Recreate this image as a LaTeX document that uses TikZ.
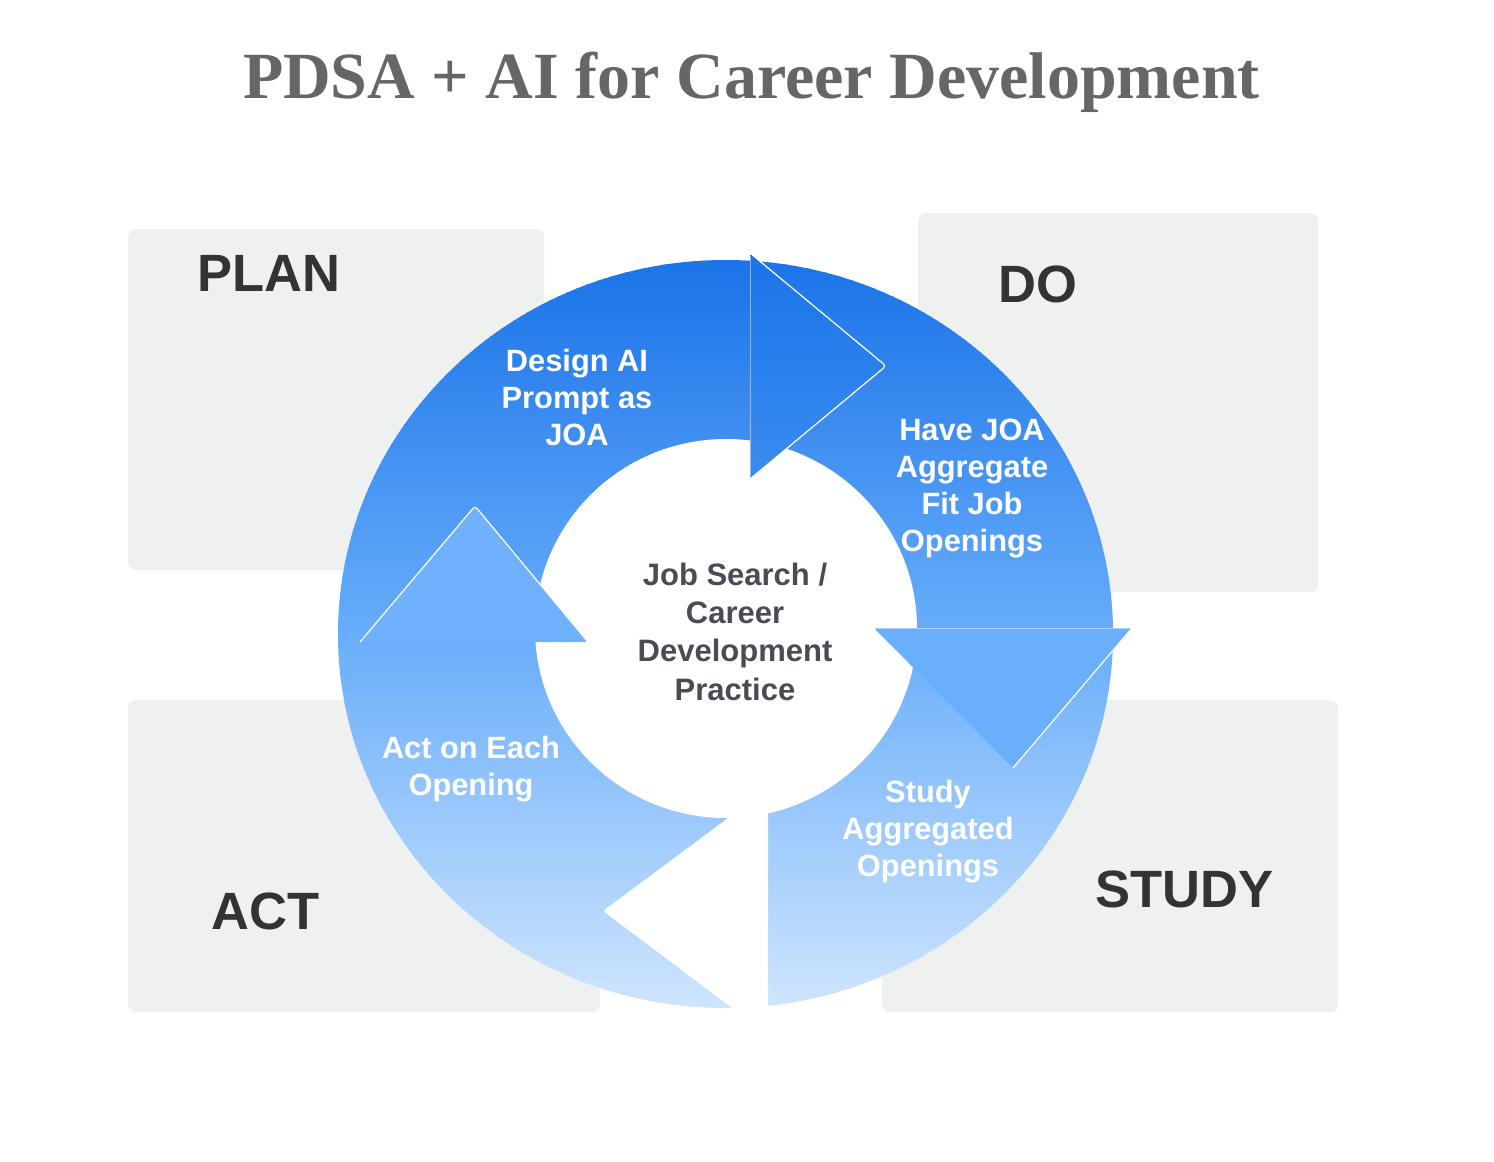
\documentclass[tikz,border=0pt]{standalone}
\usepackage{fontspec}
\newfontfamily\sansfnt{Liberation Sans}
\newfontfamily\seriffnt{Liberation Serif}
\definecolor{boxgrey}{HTML}{EFF0F0}
\definecolor{labelgrey}{HTML}{333333}
\definecolor{titlegrey}{HTML}{666666}
\definecolor{centergrey}{HTML}{474C55}
\definecolor{ringtop}{HTML}{1A73E8}
\definecolor{ringmid}{HTML}{68ADFB}
\definecolor{ringbot}{HTML}{CFE5FD}
\definecolor{planheadbot}{HTML}{3A8CEF}
\definecolor{dohead}{HTML}{6AAFFC}
\definecolor{acthead}{HTML}{70B1FD}
\newcommand{\stacklines}[1]{\begin{tabular}[t]{@{}c@{}}#1\end{tabular}}
\tikzset{
  greybox/.style={fill=boxgrey, rounded corners=8pt, anchor=north west, inner sep=0pt},
  phaselabel/.style={font=\sansfnt\bfseries\fontsize{52.5}{60}\selectfont, text=labelgrey, anchor=base, inner sep=0pt},
  ringtext/.style={font=\sansfnt\bfseries\fontsize{30.8}{37.3}\selectfont, text=white, anchor=base, inner sep=0pt},
  centertext/.style={font=\sansfnt\bfseries\fontsize{31}{38.4}\selectfont, text=centergrey, anchor=base, inner sep=0pt},
  headedge/.style={draw=white, line width=1.2pt, line cap=round, line join=round, rounded corners=3pt},
  headbase/.style={draw=white, draw opacity=0.45, line width=0.8pt},
}
\begin{document}
\begin{tikzpicture}[x=1pt, y=-1pt]
\fill[white] (0,0) rectangle (1494,1162);
\useasboundingbox (0,0) rectangle (1494,1162);

% title
\node[font=\seriffnt\bfseries\fontsize{66}{70}\selectfont, text=titlegrey, anchor=base, inner sep=0pt] (title) at (751.5,98) {PDSA + AI for Career Development};

% grey quadrant boxes
\node[greybox, minimum width=416pt, minimum height=341pt] (planbox) at (128,229) {};
\node[greybox, minimum width=400pt, minimum height=379pt] (dobox) at (918,213) {};
\node[greybox, minimum width=472pt, minimum height=312pt] (actbox) at (128,700) {};
\node[greybox, minimum width=456pt, minimum height=312pt] (studybox) at (882,700) {};

% phase labels
\node[phaselabel] (planlabel) at (269,291) {PLAN};
\node[phaselabel] (dolabel) at (1037.5,302) {DO};
\node[phaselabel] (actlabel) at (265.5,929) {ACT};
\node[phaselabel] (studylabel) at (1184.5,907) {STUDY};

% ring with vertical gradient, drawn as thin solid strips
\begin{scope}
  \clip (725.5,634) ellipse [x radius=387.5pt, y radius=374pt];
  \foreach \i in {0,...,93} {
    \pgfmathtruncatemacro{\pc}{min(100,round((4*\i+2)/3.74))}
    \fill[ringmid!\pc!ringtop] (330,{260+4*\i}) rectangle (1120,{264.6+4*\i});
  }
  \foreach \i in {0,...,94} {
    \pgfmathtruncatemacro{\pc}{min(100,round((4*\i+2)/3.74))}
    \fill[ringbot!\pc!ringmid] (330,{634+4*\i}) rectangle (1120,{638.6+4*\i});
  }
\end{scope}
\fill[white] (726,628.5) ellipse [x radius=191pt, y radius=189.5pt];
% gap between STUDY and ACT (notched tail)
\fill[white, rounded corners=3pt] (734.3,813.4) -- (603,911) -- (741.6,1015) -- (768,1015) -- (768,805) -- cycle;

% arrowhead PLAN -> DO
\shade[top color=ringtop, bottom color=planheadbot, rounded corners=3pt]
  (750,253) -- (886,366) -- (750,479) -- cycle;
\draw[headedge] (750,253) -- (886,366) -- (750,479);
\draw[headbase] (750,256) -- (750,476);

% arrowhead DO -> STUDY
\fill[dohead, rounded corners=3pt] (874,628) -- (1132,628) -- (1013,768) -- cycle;
\draw[headedge] (1132,628) -- (1013,768);
\draw[headbase] (877,628) -- (1129,628);

% arrowhead ACT -> PLAN
\fill[acthead, rounded corners=3pt] (360,642) -- (475,506) -- (588,642) -- cycle;
\draw[headedge] (360,642) -- (475,506) -- (588,642);

% ring texts
\node[ringtext] (plantext) at (577,371) {\stacklines{Design AI\\Prompt as\\JOA}};
\node[ringtext] (dotext) at (972,440) {\stacklines{Have JOA\\Aggregate\\Fit Job\\Openings}};
\node[ringtext] (studytext) at (928,802) {\stacklines{Study\\Aggregated\\Openings}};
\node[ringtext] (acttext) at (471,758) {\stacklines{Act on Each\\Opening}};
\node[centertext] (centretext) at (735,585) {\stacklines{Job Search /\\Career\\Development\\Practice}};
\end{tikzpicture}
\end{document}
